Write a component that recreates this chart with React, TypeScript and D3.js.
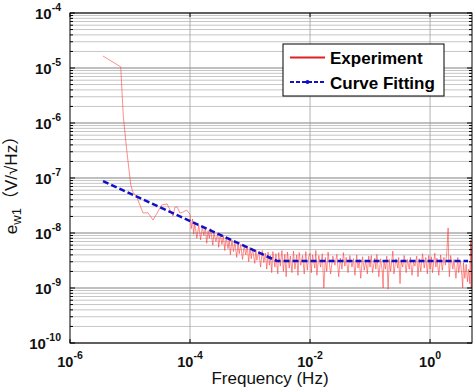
import React from 'react'
import * as d3 from 'd3'

const W = 474
const H = 391
const margin = { left: 70, right: 2, top: 13, bottom: 48 }

// Experiment: frequency (Hz) and noise amplitude (nV/√Hz)
const expFreq = [
  3.55e-6, 7.0e-6, 7.74e-6, 8.81e-6, 1.03e-5, 1.12e-5, 1.29e-5, 1.65e-5, 2.0e-5, 2.42e-5,
  3.38e-5, 4.14e-5, 4.64e-5, 5.2e-5, 5.6e-5, 6.07e-5, 6.8e-5, 7.6e-5, 8.8e-5,
  1.0e-4, 1.05e-4, 1.1e-4, 1.15e-4, 1.2e-4, 1.3e-4, 1.4e-4, 1.5e-4, 1.6e-4, 1.7e-4,
  1.8e-4, 1.9e-4, 2.0e-4, 2.1e-4, 2.2e-4, 2.4e-4, 2.5e-4, 2.7e-4, 2.9e-4, 3.0e-4,
  3.2e-4, 3.4e-4, 3.6e-4, 3.8e-4, 4.0e-4, 4.3e-4, 4.5e-4, 4.7e-4, 5.0e-4, 5.3e-4,
  5.6e-4, 6.0e-4, 6.3e-4, 6.6e-4, 7.0e-4, 7.5e-4, 8.0e-4, 8.5e-4, 9.0e-4, 9.5e-4,
  1.0e-3, 1.05e-3, 1.1e-3, 1.2e-3, 1.25e-3, 1.3e-3, 1.4e-3, 1.5e-3, 1.6e-3, 1.7e-3,
  1.8e-3, 1.9e-3, 2.0e-3, 2.1e-3, 2.2e-3, 2.3e-3, 2.4e-3, 2.6e-3, 2.7e-3, 2.9e-3,
  3.0e-3, 3.2e-3, 3.4e-3, 3.6e-3, 3.8e-3, 4.0e-3, 4.2e-3, 4.5e-3, 4.7e-3, 5.0e-3,
  5.3e-3, 5.6e-3, 6.0e-3, 6.3e-3, 6.6e-3, 7.0e-3, 7.5e-3, 8.0e-3, 8.5e-3, 9.0e-3, 9.5e-3,
  1.0e-2, 1.05e-2, 1.1e-2, 1.2e-2, 1.25e-2, 1.3e-2, 1.4e-2, 1.5e-2, 1.6e-2, 1.7e-2,
  1.8e-2, 1.9e-2, 2.0e-2, 2.2e-2, 2.4e-2, 2.6e-2, 2.8e-2, 3.0e-2, 3.2e-2, 3.4e-2,
  3.6e-2, 3.8e-2, 4.0e-2, 4.3e-2, 4.6e-2, 5.0e-2, 5.3e-2, 5.6e-2, 6.0e-2, 6.3e-2,
  6.6e-2, 7.0e-2, 7.5e-2, 8.0e-2, 8.5e-2, 9.0e-2, 9.5e-2,
  0.10, 0.105, 0.11, 0.12, 0.125, 0.13, 0.14, 0.15, 0.16, 0.165,
  0.17, 0.18, 0.19, 0.20, 0.21, 0.22, 0.24, 0.25, 0.27, 0.29,
  0.30, 0.316, 0.33, 0.35, 0.37, 0.40, 0.42, 0.45, 0.47, 0.50,
  0.53, 0.56, 0.60, 0.63, 0.66, 0.70, 0.75, 0.80, 0.85, 0.90, 0.95,
  1.0, 1.05, 1.1, 1.2, 1.25, 1.3, 1.4, 1.5, 1.6, 1.7,
  1.8, 1.9, 2.0, 2.05, 2.1, 2.2, 2.4, 2.5, 2.7, 2.9,
  3.0, 3.2, 3.4, 3.5, 3.6, 3.8, 4.0, 4.2, 4.4, 4.6, 4.75, 4.85, 4.95,
]
const expNv = [
  16500, 10500, 1300, 323, 74.6, 55, 45.7, 23.1, 23.3, 17.2,
  32.3, 33.8, 26.3, 20.4, 29.5, 30, 23, 24, 26,
  22, 12, 18, 9.5, 15, 8, 14, 7.5, 13, 9,
  12.5, 6.5, 11, 8, 12, 6, 10, 7, 9.8, 5.5,
  9.5, 6.2, 8.8, 4.8, 8.4, 5.2, 7.8, 4.0, 7.5, 4.6,
  6.8, 3.6, 6.6, 4.2, 6.2, 3.3, 5.9, 4.0, 5.6, 3.0,
  5.5, 3.4, 5.2, 2.8, 4.9, 3.2, 4.6, 2.4, 4.8, 2.9,
  4.3, 2.2, 4.5, 2.6, 3.9, 1.9, 4.6, 2.4, 4.2, 1.8,
  4.4, 2.5, 4.8, 2.0, 4.1, 1.6, 4.5, 2.3, 3.8, 1.9,
  4.7, 2.2, 4.0, 1.7, 4.4, 2.6, 3.9, 1.8, 4.6, 2.1, 3.7,
  4.3, 1.9, 4.0, 2.3, 4.8, 1.7, 3.9, 2.4, 4.2, 1.0,
  3.6, 2.0, 4.5, 1.8, 3.8, 2.6, 4.1, 1.6, 3.5, 2.2,
  4.4, 2.5, 3.6, 1.9, 3.9, 2.4, 3.4, 1.7, 4.0, 2.3,
  3.3, 1.5, 3.7, 2.1, 3.2, 1.8, 3.8,
  2.4, 3.9, 1.9, 3.5, 2.2, 4.1, 1.6, 3.4, 2.0, 1.0,
  3.2, 2.2, 3.8, 0.95, 3.3, 2.0, 4.7, 1.8, 3.4, 2.3,
  3.6, 1.2, 3.1, 2.4, 3.9, 1.9, 3.3, 2.2, 3.6, 1.7,
  3.0, 2.5, 3.8, 1.6, 3.4, 2.0, 4.2, 2.3, 3.6, 1.8, 3.9,
  2.2, 3.7, 1.9, 4.3, 2.4, 3.5, 1.7, 4.0, 2.1, 3.6,
  2.6, 4.4, 12.4, 2.8, 1.6, 3.9, 2.2, 3.3, 1.5, 3.6,
  1.9, 3.1, 1.6, 1.0, 2.9, 1.5, 2.7, 1.3, 2.2, 1.2, 7.5, 1.0, 5.5,
]

// Curve fitting: f^-1/2 slope down to the white-noise floor
const fitFreq = [3.55e-6, 2.8e-3, 4.3]
const fitAmp = [8.8e-8, 3.1e-9, 3.1e-9]

const xTicks = [1e-6, 1e-4, 1e-2, 1]
const yTicks = [1e-10, 1e-9, 1e-8, 1e-7, 1e-6, 1e-5, 1e-4]
const legendItems = ['Experiment', 'Curve Fitting']

const FONT = 'Liberation Sans, Arial, Helvetica, sans-serif'

export default function App() {
  const x = d3.scaleLog().domain([1e-6, 5]).range([margin.left, W - margin.right])
  const y = d3.scaleLog().domain([1e-10, 1e-4]).range([H - margin.bottom, margin.top])
  const [x0, x1] = x.range()
  const [y0, y1] = [y(1e-10), y(1e-4)]

  const yAll = y.ticks()
  const isMajor = (v: number) => Math.abs(Math.log10(v) - Math.round(Math.log10(v))) < 1e-6

  const exp = expFreq.map((f, i) => [f, expNv[i] * 1e-9] as [number, number])
  const fit = fitFreq.map((f, i) => [f, fitAmp[i]] as [number, number])
  const line = d3.line<[number, number]>().x(d => x(d[0])).y(d => y(d[1]))

  return (
    <svg width={W} height={H} style={{ position: 'absolute', left: 0, top: 0, fontFamily: FONT }}>
      <rect width={W} height={H} fill="#fff" />
      <defs>
        <clipPath id="plot">
          <rect x={x0} y={y1} width={x1 - x0} height={y0 - y1} />
        </clipPath>
      </defs>

      {/* horizontal grid */}
      {yAll.map((v, i) => (
        <line key={'gy' + i} x1={x0} x2={x1} y1={y(v)} y2={y(v)}
          stroke={isMajor(v) ? '#808080' : '#c6c6c6'} strokeWidth={1} />
      ))}
      {/* vertical grid */}
      {xTicks.slice(1).map((v, i) => (
        <line key={'gx' + i} x1={x(v)} x2={x(v)} y1={y1} y2={y0} stroke="#a0a0a0" strokeWidth={0.8} />
      ))}

      <g clipPath="url(#plot)">
        <path d={line(exp) ?? ''} fill="none" stroke="#ff3535" strokeWidth={0.75} strokeOpacity={0.75} />
        <path d={line(fit) ?? ''} fill="none" stroke="#1010c8" strokeWidth={2.5} strokeDasharray="6,3" />
      </g>

      {/* frame */}
      <rect x={x0} y={y1} width={x1 - x0} height={y0 - y1} fill="none" stroke="#000" strokeWidth={1} />

      {/* y ticks */}
      {yAll.map((v, i) => {
        const len = isMajor(v) ? 5 : 3
        return (
          <g key={'ty' + i}>
            <line x1={x0} x2={x0 + len} y1={y(v)} y2={y(v)} stroke="#000" />
            <line x1={x1} x2={x1 - len} y1={y(v)} y2={y(v)} stroke="#000" />
          </g>
        )
      })}
      {/* x ticks */}
      {xTicks.map((v, i) => (
        <g key={'tx' + i}>
          <line x1={x(v)} x2={x(v)} y1={y0} y2={y0 - 4} stroke="#000" />
          <line x1={x(v)} x2={x(v)} y1={y1} y2={y1 + 4} stroke="#000" />
        </g>
      ))}

      {/* tick labels */}
      {yTicks.map((v, i) => (
        <text key={'ly' + i} x={61} y={y(v) + 6} textAnchor="end" fontWeight="bold" fontSize={15} fill="#111">
          10<tspan dy={-8} fontSize={10.5}>{Math.round(Math.log10(v))}</tspan>
        </text>
      ))}
      {xTicks.map((v, i) => (
        <text key={'lx' + i} x={x(v)} y={367} textAnchor="middle" fontWeight="bold" fontSize={14.5} fill="#111">
          10<tspan dy={-8} fontSize={10.5}>{Math.round(Math.log10(v))}</tspan>
        </text>
      ))}

      {/* axis titles */}
      <text x={(x0 + x1) / 2 - 1} y={384} textAnchor="middle" fontSize={17} fill="#111">Frequency (Hz)</text>
      <text transform={`translate(17,181) rotate(-90)`} textAnchor="middle" fontSize={17} fill="#111"
        fontFamily={`${FONT}, Noto Sans CJK SC`}>
        e<tspan dy={4} fontSize={13}>w1</tspan><tspan dy={-4}>（V/√Hz）</tspan>
      </text>

      {/* legend */}
      <g>
        <rect x={283} y={44} width={161} height={52} fill="#fff" stroke="#000" strokeWidth={1} />
        <line x1={290} x2={325} y1={57.5} y2={57.5} stroke="#e02020" strokeWidth={2} />
        <line x1={290} x2={325} y1={82} y2={82} stroke="#1010c8" strokeWidth={2} strokeDasharray="4,2" />
        <circle cx={307.5} cy={82} r={2} fill="#1010c8" />
        {legendItems.map((t, i) => (
          <text key={t} x={330} y={64 + i * 24.5} fontSize={17} fontWeight="bold" fill="#000">{t}</text>
        ))}
      </g>
    </svg>
  )
}
